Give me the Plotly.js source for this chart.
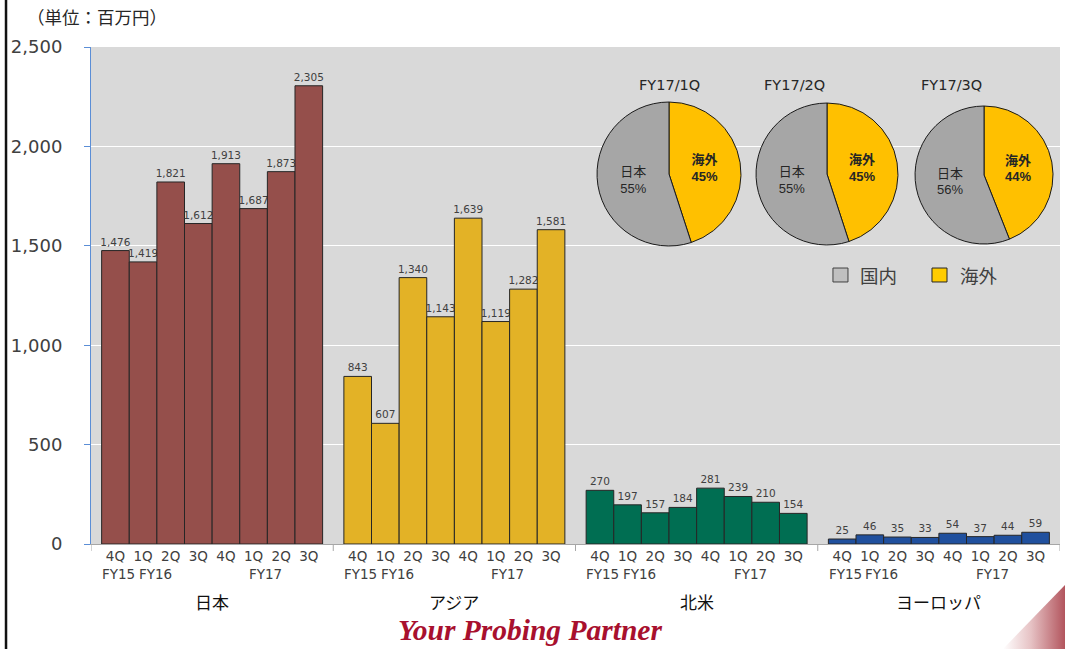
<!DOCTYPE html>
<html>
<head>
<meta charset="utf-8">
<script src="https://cdn.plot.ly/plotly-3.0.1.min.js"></script>
<style>
html,body{margin:0;padding:0;background:#fff;}
#wrap{position:relative;width:1065px;height:649px;overflow:hidden;}
#chart{width:1065px;height:649px;}
#corner{position:absolute;right:0;bottom:0;width:62px;height:64px;
 background:linear-gradient(to left, rgba(165,55,65,0.85), rgba(200,120,125,0.45) 55%, rgba(255,255,255,0));
 clip-path:polygon(100% 0,100% 100%,0 100%);pointer-events:none;}
</style>
</head>
<body>
<div id="wrap"><div id="chart"></div><div id="corner"></div></div>
<script>
// ---- data ----
const regions = ['日本', 'アジア', '北米', 'ヨーロッパ'];
const quarterLabels = ['4Q', '1Q', '2Q', '3Q', '4Q', '1Q', '2Q', '3Q'];
const fyLabels = ['FY15', 'FY16', '', '', '', 'FY17', '', ''];
const japan = [1476, 1419, 1821, 1612, 1913, 1687, 1873, 2305];
const asia = [843, 607, 1340, 1143, 1639, 1119, 1282, 1581];
const northAmerica = [270, 197, 157, 184, 281, 239, 210, 154];
const europe = [25, 46, 35, 33, 54, 37, 44, 59];
const pieTitles = ['FY17/1Q', 'FY17/2Q', 'FY17/3Q'];
const pieLabels = ['海外', '日本'];
const pieOverseas = [45, 45, 44];
const pieDomestic = [55, 55, 56];
const legendLabels = ['国内', '海外'];

// ---- styling / layout constants ----
const FONT = 'DejaVu Sans, Noto Sans CJK JP, sans-serif';
const barColors = ['#954f4b', '#e3b226', '#006e52', '#20509e'];
const P = 8.77;                 // group pitch in bar units
const OFF = (P - 8) / 2;
const seriesAll = [japan, asia, northAmerica, europe];

const xpos = (g, j) => g * P + OFF + j + 0.5;

const traces = [];
seriesAll.forEach((vals, g) => {
  traces.push({
    type: 'bar',
    x: vals.map((v, j) => xpos(g, j)),
    y: vals,
    width: 1,
    marker: {color: barColors[g], line: {color: '#262626', width: 1}},
    texttemplate: '%{y:,}',
    textposition: 'outside',
    constraintext: 'none',
    cliponaxis: false,
    textfont: {family: FONT, size: 10.5, color: '#404040'},
    hoverinfo: 'x+y',
    showlegend: false
  });
});

const pieDomains = [
  {x: [0.5222, 0.6708], y: [0.5996, 0.8893]},
  {x: [0.6863, 0.8328], y: [0.6016, 0.8873]},
  {x: [0.8504, 0.9928], y: [0.6036, 0.8813]}
];
pieTitles.forEach((t, i) => {
  traces.push({
    type: 'pie',
    labels: pieLabels,
    values: [pieOverseas[i], pieDomestic[i]],
    domain: pieDomains[i],
    sort: false,
    direction: 'clockwise',
    rotation: 0,
    marker: {colors: ['#ffc000', '#a6a6a6'], line: {color: '#1a1a1a', width: 1}},
    textposition: 'inside',
    insidetextorientation: 'horizontal',
    texttemplate: ['<b>%{label}</b><br><b>%{percent:.0%}</b>', '%{label}<br>%{percent:.0%}'],
    textfont: {family: 'Liberation Sans, Noto Sans CJK JP, sans-serif', size: 13, color: '#262626'},
    showlegend: false,
    hoverinfo: 'label+percent'
  });
});

// x tick values
const tickvals = [], ticktext = [];
regions.forEach((r, g) => quarterLabels.forEach((q, j) => { tickvals.push(xpos(g, j)); ticktext.push(q); }));

const annotations = [];
// FY labels
regions.forEach((r, g) => {
  fyLabels.forEach((f, j) => {
    if (!f) return;
    annotations.push({
      x: xpos(g, j), xref: 'x', y: -0.0604, yref: 'paper', text: f, showarrow: false,
      xshift: j === 0 ? 3 : 12, yanchor: 'middle',
      font: {family: FONT, size: 13.5, color: '#404040'}
    });
  });
  annotations.push({
    x: g * P + P / 2, xref: 'x', y: -0.1187, yref: 'paper', text: r, showarrow: false,
    yanchor: 'middle', font: {family: FONT, size: 17, color: '#111'}
  });
});
// pie titles
[0.5965, 0.7595, 0.9216].forEach((px, i) => {
  annotations.push({x: px, xref: 'paper', y: 0.9235, yref: 'paper', text: pieTitles[i],
    showarrow: false, yanchor: 'middle', font: {family: FONT, size: 14.5, color: '#262626'}});
});
// legend texts
annotations.push({x: 0.7915, xref: 'paper', y: 0.5412, yref: 'paper', text: legendLabels[0], showarrow: false,
  xanchor: 'left', yanchor: 'middle', font: {family: 'Noto Sans CJK JP, sans-serif', size: 18.5, color: '#404040'}});
annotations.push({x: 0.8947, xref: 'paper', y: 0.5412, yref: 'paper', text: legendLabels[1], showarrow: false,
  xanchor: 'left', yanchor: 'middle', font: {family: 'Noto Sans CJK JP, sans-serif', size: 18.5, color: '#404040'}});
// unit label
annotations.push({x: -0.068, xref: 'paper', y: 1.0604, yref: 'paper', text: '（単位：百万円）', showarrow: false,
  xanchor: 'left', yanchor: 'middle', font: {family: 'Noto Sans CJK JP, sans-serif', size: 17.5, color: '#262626'}});
// footer slogan
annotations.push({x: 0.453, xref: 'paper', y: -0.173, yref: 'paper', text: '<b><i>Your Probing Partner</i></b>', showarrow: false,
  xanchor: 'center', yanchor: 'middle', font: {family: 'Liberation Serif, serif', size: 29.5, color: '#a8102e'}});

const shapes = [];
// group boundary ticks
for (let g = 0; g <= 4; g++) {
  shapes.push({type: 'line', xref: 'x', yref: 'paper', x0: g * P, x1: g * P, y0: 0, y1: -0.014,
    line: {color: '#a6a6a6', width: 1}});
}
// legend swatches
shapes.push({type: 'rect', xref: 'paper', yref: 'paper', x0: 0.7657, x1: 0.7812, y0: 0.5272, y1: 0.5553,
  fillcolor: '#c0c0c0', line: {color: '#404040', width: 1}});
shapes.push({type: 'rect', xref: 'paper', yref: 'paper', x0: 0.8679, x1: 0.8834, y0: 0.5272, y1: 0.5553,
  fillcolor: '#ffcc00', line: {color: '#262626', width: 1}});
// slide frame left line
shapes.push({type: 'line', xref: 'paper', yref: 'paper', x0: -0.0877, x1: -0.0877, y0: -0.22, y1: 1.1,
  line: {color: '#111', width: 2.5}});

const layout = {
  width: 1065, height: 649,
  margin: {l: 91, r: 5, t: 47, b: 105},
  paper_bgcolor: '#ffffff',
  plot_bgcolor: '#d9d9d9',
  font: {family: FONT, color: '#404040'},
  showlegend: false,
  bargap: 0,
  xaxis: {
    range: [0, 4 * P], showgrid: false, zeroline: false,
    showline: true, linecolor: '#a6a6a6', linewidth: 1,
    tickmode: 'array', tickvals: tickvals, ticktext: ticktext, ticks: '',
    tickfont: {family: FONT, size: 13.5, color: '#404040'}, fixedrange: true
  },
  yaxis: {
    range: [0, 2500], dtick: 500, tick0: 0, tickformat: ',',
    showgrid: true, gridcolor: '#ffffff', gridwidth: 1, zeroline: false,
    showline: true, linecolor: '#5b8ed6', linewidth: 1,
    ticks: 'outside', ticklen: 6, tickcolor: '#5b8ed6',
    ticklabelstandoff: 18,
    tickfont: {family: FONT, size: 18, color: '#404040'}, fixedrange: true
  },
  annotations: annotations,
  shapes: shapes
};

Plotly.newPlot('chart', traces, layout, {displayModeBar: false, staticPlot: true});
</script>
</body>
</html>
